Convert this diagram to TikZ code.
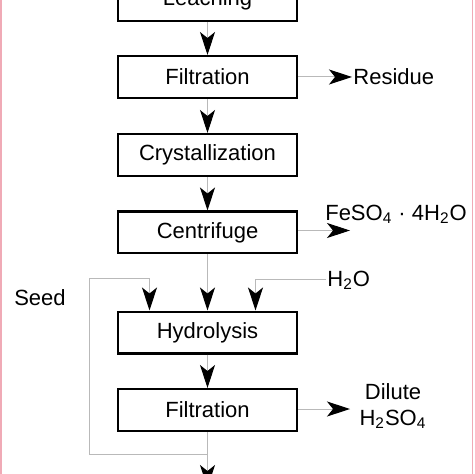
\documentclass[tikz,border=0pt]{standalone}
\usepackage{fontspec}
\setmainfont{Liberation Sans}
\usetikzlibrary{arrows.meta}
\definecolor{edgepink}{RGB}{240,170,182}
\begin{document}
\begin{tikzpicture}
            [x=0.5pt,y=-0.5pt,
             Step/.style={draw=black,line width=1.2pt,minimum width=89.3pt,minimum height=20.8pt,inner sep=0pt,font=\fontsize{11pt}{13pt}\selectfont},
             Label/.style={inner sep=0.5pt,font=\fontsize{11pt}{13pt}\selectfont},
             Flow/.style={draw=gray!55,line width=0.5pt,-{Stealth[length=11.5pt,width=7.5pt,inset=3pt,color=black]}}]
            \useasboundingbox (0,0) rectangle (474,474);
            \clip (0,0) rectangle (474,474);
            \node[Step] (leach) at (207.5,0) {Leaching};
            \node[Step] (filt1) at (207.5,77) {Filtration};
            \node[Step] (cryst) at (207.5,155) {Crystallization};
            \node[Step] (centr) at (207.5,232.5) {Centrifuge};
            \node[Step] (hydro) at (207.5,332.5) {Hydrolysis};
            \node[Step] (filt2) at (207.5,410) {Filtration};
            \node[Label,anchor=west] (residue) at (352,77) {Residue};
            \node[Label] (feso) at (396,214) {FeSO\textsubscript{4} · 4H\textsubscript{2}O};
            \node[Label,anchor=west] (water) at (326,280) {H\textsubscript{2}O};
            \node[Label] (seed) at (40,298) {Seed};
            \node[Label,align=center] (dilute) at (393,406) {Dilute\\H\textsubscript{2}SO\textsubscript{4}};
            \coordinate (fesoend) at (350,230.5);
            \coordinate (diluteend) at (350,409);
            \coordinate (split) at (207.5,454);
            \coordinate (seedtop) at (89,279);
            \coordinate (next) at (207.5,488);
            \draw [Flow] (leach) -- (filt1);
            \draw [Flow] (filt1) -- (cryst);
            \draw [Flow] (cryst) -- (centr);
            \draw [Flow] (centr) -- (hydro);
            \draw [Flow] (hydro) -- (filt2);
            \draw [Flow] (filt2) -- (next);
            \draw [Flow] (filt1.east) -- (residue.west);
            \draw [Flow] (centr.east |- fesoend) -- (fesoend);
            \draw [Flow] (filt2.east |- diluteend) -- (diluteend);
            \draw [Flow] (water.west) -| ([xshift=24pt]hydro.north);
            \draw [Flow] (filt2.south) -- (split) -| (seedtop) -| ([xshift=-29pt]hydro.north);
            % frame edges
            \draw [edgepink,line width=0.8pt] (1,0) -- (1,474);
            \draw [edgepink,line width=0.8pt] (472.5,0) -- (472.5,474);
        \end{tikzpicture}
\end{document}
